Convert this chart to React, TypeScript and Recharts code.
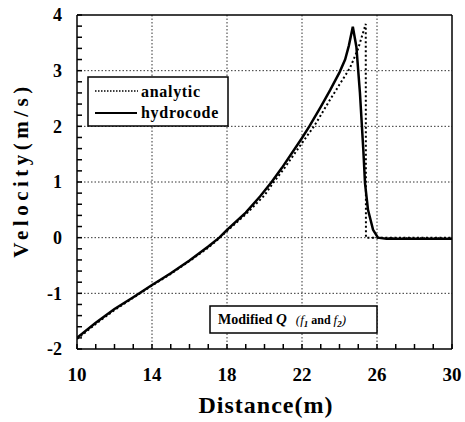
import React from "react";
import { LineChart, Line, XAxis, YAxis, CartesianGrid } from "recharts";

// hydrocode result
const hydroDist = [
  10, 11, 12, 13, 14, 14.43, 15, 16, 17, 17.59, 18, 19, 19.76, 20.38, 20.92,
  22, 22.39, 23, 23.5, 24, 24.3, 24.5, 24.71, 24.9, 25.09, 25.27, 25.36, 25.52,
  25.79, 26.05, 26.5, 28, 30,
];
const hydroVel = [
  -1.8, -1.53, -1.28, -1.07, -0.85, -0.76, -0.64, -0.41, -0.16, 0, 0.14, 0.45,
  0.74, 1.0, 1.25, 1.79, 2.0, 2.35, 2.65, 2.97, 3.2, 3.45, 3.79, 3.43, 2.6,
  1.58, 0.98, 0.5, 0.14, 0.0, -0.02, -0.02, -0.02,
];

// analytic solution
const analyticDist = [
  10, 11, 12, 13, 14, 15, 16, 17, 17.62, 18, 19, 20, 20.45, 21, 22, 22.64, 23,
  23.5, 24, 24.56, 25, 25.4, 25.41, 30,
];
const analyticVel = [
  -1.82, -1.55, -1.3, -1.08, -0.86, -0.65, -0.42, -0.18, 0, 0.12, 0.42, 0.76,
  0.98, 1.22, 1.7, 2.0, 2.2, 2.48, 2.75, 3.05, 3.4, 3.84, 0, 0,
];

const xMajor = [10, 14, 18, 22, 26, 30];
const yMajor = [-2, -1, 0, 1, 2, 3, 4];
const xGrid = [14, 18, 22, 26];
const yGrid = [-1, 0, 1, 2, 3];

const xTicks = Array.from({ length: 21 }, (_, i) => 10 + i);
const yTicks = Array.from({ length: 31 }, (_, i) => Math.round((-2 + i * 0.2) * 10) / 10);

const hydro = hydroDist.map((x, i) => ({ x, v: hydroVel[i] }));
const analytic = analyticDist.map((x, i) => ({ x, v: analyticVel[i] }));

const SERIF = "'Liberation Serif', 'Times New Roman', serif";
const tickFont = { fill: "#000", fontFamily: SERIF, fontWeight: "bold" };

const fmtX = (v: number) => (xMajor.includes(v) ? String(v) : "");
const fmtY = (v: number) => (yMajor.includes(v) ? String(v) : "");

export default function App() {
  return (
    <div
      style={{
        position: "absolute",
        left: 0,
        top: 0,
        width: 465,
        height: 422,
        background: "#fff",
      }}
    >
      <div style={{ position: "relative", width: 465, height: 422, display: "inline-block" }}>
        <LineChart
          width={465}
          height={422}
          margin={{ top: 14, right: 12, bottom: 0, left: 0 }}
        >
          <CartesianGrid
            verticalValues={xGrid}
            horizontalValues={yGrid}
            stroke="#333"
            strokeDasharray="1.5 2"
          />
          <XAxis
            dataKey="x"
            type="number"
            domain={[10, 30]}
            allowDataOverflow
            ticks={xTicks}
            interval={0}
            tickFormatter={fmtX}
            tickSize={-5}
            tickMargin={24}
            height={73}
            stroke="#000"
            strokeWidth={1.5}
            tick={{ ...tickFont, fontSize: 19 }}
          />
          <YAxis
            dataKey="v"
            type="number"
            domain={[-2, 4]}
            allowDataOverflow
            ticks={yTicks}
            interval={0}
            tickFormatter={fmtY}
            tickSize={-5}
            tickMargin={20}
            width={77}
            stroke="#000"
            strokeWidth={1.5}
            tick={{ ...tickFont, fontSize: 18 }}
          />
          <XAxis
            xAxisId="top"
            orientation="top"
            dataKey="x"
            type="number"
            domain={[10, 30]}
            allowDataOverflow
            ticks={xTicks}
            interval={0}
            tick={false}
            tickSize={-5}
            height={1}
            stroke="#000"
            strokeWidth={1.5}
          />
          <YAxis
            yAxisId="right"
            orientation="right"
            dataKey="v"
            type="number"
            domain={[-2, 4]}
            allowDataOverflow
            ticks={yTicks}
            interval={0}
            tick={false}
            tickSize={-5}
            width={1}
            stroke="#000"
            strokeWidth={1.5}
          />
          <Line
            xAxisId="top"
            yAxisId="right"
            data={hydro}
            dataKey="v"
            stroke="none"
            dot={false}
            isAnimationActive={false}
          />
          <Line
            data={analytic}
            dataKey="v"
            type="linear"
            stroke="#000"
            strokeWidth={2}
            strokeDasharray="2 2.5"
            dot={false}
            isAnimationActive={false}
          />
          <Line
            data={hydro}
            dataKey="v"
            type="linear"
            stroke="#000"
            strokeWidth={2.5}
            dot={false}
            isAnimationActive={false}
          />
        </LineChart>

        <svg
          width={465}
          height={422}
          style={{ position: "absolute", left: 0, top: 0, pointerEvents: "none" }}
        >
          <text
            x={266}
            y={413}
            textAnchor="middle"
            fontFamily={SERIF}
            fontWeight="bold"
            fontSize={24}
            letterSpacing={1}
          >
            Distance(m)
          </text>
          <text
            x={28}
            y={170}
            textAnchor="middle"
            fontFamily={SERIF}
            fontWeight="bold"
            fontSize={21}
            letterSpacing={4.5}
            transform="rotate(-90 28 170)"
          >
            Velocity(m/s)
          </text>

          <rect x={88} y={77} width={140} height={49} fill="#fff" stroke="#000" strokeWidth={1.5} />
          <line x1={95} y1={91} x2={138} y2={91} stroke="#000" strokeWidth={1.5} strokeDasharray="1.5 1.5" />
          <text x={141} y={97} fontFamily={SERIF} fontWeight="bold" fontSize={16} letterSpacing={0.7}>
            analytic
          </text>
          <line x1={95} y1={113} x2={137} y2={113} stroke="#000" strokeWidth={2} />
          <text x={141} y={118} fontFamily={SERIF} fontWeight="bold" fontSize={16} letterSpacing={0.7}>
            hydrocode
          </text>

          <rect x={210} y={306} width={167} height={27} fill="#fff" stroke="#000" strokeWidth={1.5} />
          <text x={218} y={324} fontFamily={SERIF} fontWeight="bold" fontSize={14}>
            Modified{" "}
            <tspan fontStyle="italic" fontSize={15}>Q</tspan>
            <tspan dx={9} fontStyle="italic" fontWeight="normal" fontSize={13}>(f</tspan>
            <tspan fontSize={9} dy={3} fontStyle="italic">1</tspan>
            <tspan dy={-3} fontSize={12}> and </tspan>
            <tspan fontStyle="italic" fontWeight="normal" fontSize={13}>f</tspan>
            <tspan fontSize={9} dy={3} fontStyle="italic">2</tspan>
            <tspan dy={-3} fontStyle="italic" fontWeight="normal" fontSize={13}>)</tspan>
          </text>
        </svg>
      </div>
    </div>
  );
}
